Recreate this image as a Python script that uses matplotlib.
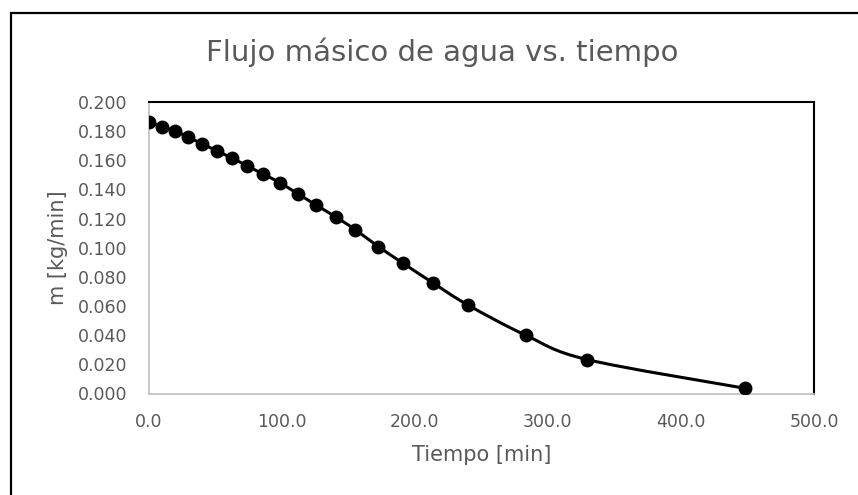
import matplotlib
matplotlib.use("Agg")
import matplotlib.pyplot as plt
from matplotlib.path import Path
from matplotlib.patches import PathPatch, Rectangle
import numpy as np

# ---- data ----
tiempo = [0, 10, 20, 30, 40.5, 51.5, 63, 74, 86, 98.8, 112, 125.6, 140.5,
          155.5, 172.8, 191.4, 213.5, 240, 283.6, 329.5, 448]
flujo = [0.1865, 0.1831, 0.1801, 0.1758, 0.1712, 0.1664, 0.1614, 0.1563,
         0.1506, 0.1446, 0.1371, 0.1295, 0.1212, 0.1123, 0.1007, 0.0893,
         0.0760, 0.0607, 0.0399, 0.0233, 0.0036]
x_ticks = [0, 100, 200, 300, 400, 500]
y_ticks = [0.000, 0.020, 0.040, 0.060, 0.080, 0.100, 0.120, 0.140, 0.160,
           0.180, 0.200]
title = "Flujo másico de agua vs. tiempo"
xlabel = "Tiempo [min]"
ylabel = "m [kg/min]"

GREY = "#595959"
W, H = 858, 495

fig = plt.figure(figsize=(W / 100, H / 100), dpi=100)
fig.patch.set_facecolor("white")

# outer chart border (extends past right and bottom edges)
fig.patches.append(Rectangle((11 / W, -0.1), 1.2, 1 - 12.5 / H + 0.1,
                             transform=fig.transFigure, fill=False,
                             edgecolor="black", linewidth=1.6,
                             clip_on=False))

ax = fig.add_axes([148.5 / W, 1 - 393.5 / H, (814 - 148.5) / W,
                   (393.5 - 102) / H])

# smooth line through the points (Catmull-Rom style Bezier, like Excel)
pts = np.column_stack([tiempo, flujo])
n = len(pts)
verts = [pts[0]]
codes = [Path.MOVETO]
for i in range(n - 1):
    p0 = pts[i - 1] if i > 0 else pts[i]
    p1 = pts[i]
    p2 = pts[i + 1]
    p3 = pts[i + 2] if i + 2 < n else pts[i + 1]
    c1 = p1 + (p2 - p0) / 6.0
    c2 = p2 - (p3 - p1) / 6.0
    verts += [c1, c2, p2]
    codes += [Path.CURVE4] * 3
ax.add_patch(PathPatch(Path(verts, codes), fill=False, edgecolor="black",
                       linewidth=2.2, zorder=2))
ax.plot(tiempo, flujo, linestyle="none", marker="o", markersize=9,
        color="black", zorder=3)

ax.set_xlim(0, 500)
ax.set_ylim(0, 0.2)
ax.set_xticks(x_ticks)
ax.set_xticklabels([f"{v:.1f}" for v in x_ticks])
ax.set_yticks(y_ticks)
ax.set_yticklabels([f"{v:.3f}" for v in y_ticks])
ax.tick_params(length=0, labelsize=12.5, labelcolor=GREY)
ax.tick_params(axis="y", pad=15)
ax.tick_params(axis="x", pad=14)

for s in ("left", "bottom"):
    ax.spines[s].set_color("#BFBFBF")
    ax.spines[s].set_linewidth(1.2)
for s in ("top", "right"):
    ax.spines[s].set_color("black")
    ax.spines[s].set_linewidth(1.5)

ax.set_xlabel(xlabel, fontsize=15, color=GREY, labelpad=10)
ax.set_ylabel(ylabel, fontsize=15, color=GREY, labelpad=7)

fig.text(442 / W, 1 - 52 / H, title, ha="center", va="center",
         fontsize=21, color=GREY)

fig.savefig("out.png", dpi=100, facecolor="white")
